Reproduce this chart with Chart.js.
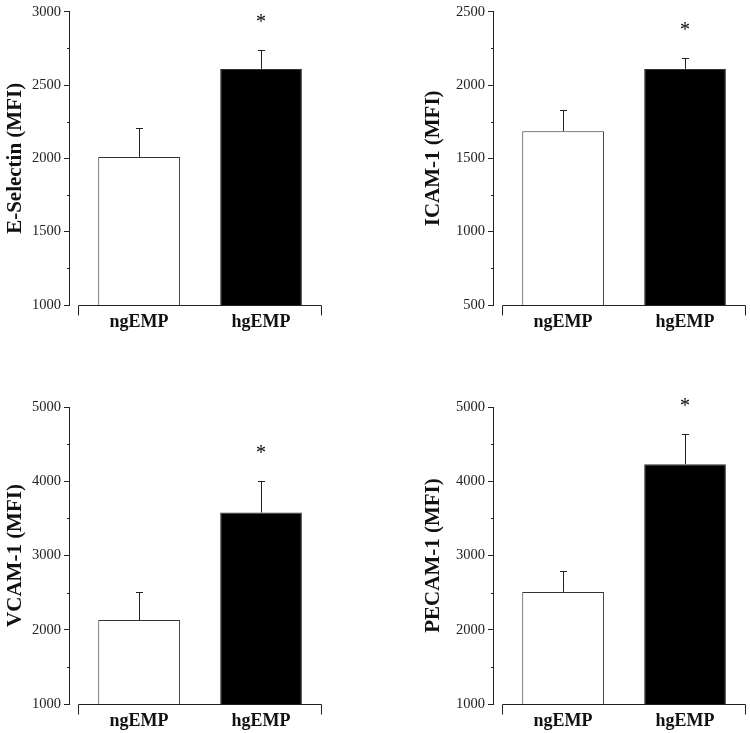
<!DOCTYPE html>
<html>
<head>
<meta charset="utf-8">
<script src="https://cdn.jsdelivr.net/npm/chart.js@4.4.0/dist/chart.umd.min.js"></script>
<style>
  html, body { margin: 0; padding: 0; background: #fff; }
  #wrap { position: relative; width: 750px; height: 733px; }
  #wrap canvas { position: absolute; }
</style>
</head>
<body>
<div id="wrap">
  <canvas id="c0"></canvas>
  <canvas id="c1"></canvas>
  <canvas id="c2"></canvas>
  <canvas id="c3"></canvas>
</div>
<script>
// Groups on the x axis
const groups = ['ngEMP', 'hgEMP'];

// Means and SEM (upper error only)
const eSelectinMean = [2010, 2610];
const eSelectinErr  = [200, 130];
const icamMean      = [1685, 2110];
const icamErr       = [145, 75];
const vcamMean      = [2130, 3580];
const vcamErr       = [380, 420];
const pecamMean     = [2510, 4230];
const pecamErr      = [280, 400];

// significance marks
const significant = [false, true];

// y axis titles and ranges
const yTitles    = ['E-Selectin (MFI)', 'ICAM-1 (MFI)', 'VCAM-1 (MFI)', 'PECAM-1 (MFI)'];
const yMins      = [1000, 500, 1000, 1000];
const yMaxs      = [3000, 2500, 5000, 5000];
const minorSteps = [250, 250, 500, 500];
const majorSteps = [500, 500, 1000, 1000];

const means = [eSelectinMean, icamMean, vcamMean, pecamMean];
const errs  = [eSelectinErr, icamErr, vcamErr, pecamErr];

// panel placement (canvas box + plot area inside it)
const panels = [
  { left: 0,   top: 0,   w: 375, h: 345, plotLeft: 69,  plotTop: 8,  plotBottom: 305, titlePad: 3 },
  { left: 375, top: 0,   w: 375, h: 345, plotLeft: 118, plotTop: 8,  plotBottom: 305, titlePad: 46 },
  { left: 0,   top: 365, w: 375, h: 368, plotLeft: 69,  plotTop: 42, plotBottom: 339, titlePad: 3 },
  { left: 375, top: 365, w: 375, h: 368, plotLeft: 118, plotTop: 42, plotBottom: 339, titlePad: 46 }
];
const plotWidth = 253;
const xStart = -0.575, xAxisFrom = -0.5, xAxisTo = 1.5;

const serif = '"Liberation Serif", "Times New Roman", serif';
const ink = '#222';

// error bars, significance stars, split x axis, minor y ticks
const extrasPlugin = {
  id: 'extras',
  afterDatasetsDraw(chart, args, opts) {
    const ctx = chart.ctx;
    const x = chart.scales.x, y = chart.scales.y;
    const area = chart.chartArea;
    const meta = chart.getDatasetMeta(0);
    ctx.save();
    ctx.strokeStyle = ink;
    ctx.lineWidth = 1;

    meta.data.forEach((bar, i) => {
      const topPx = Math.round(y.getPixelForValue(opts.mean[i] + opts.err[i])) + 0.5;
      const cx = Math.round(bar.x) + 0.5;
      ctx.beginPath();
      ctx.moveTo(cx, bar.y);
      ctx.lineTo(cx, topPx);
      ctx.moveTo(cx - 3.5, topPx);
      ctx.lineTo(cx + 3.5, topPx);
      ctx.stroke();
      if (significant[i]) {
        ctx.fillStyle = '#000';
        ctx.font = '20px ' + serif;
        ctx.textAlign = 'center';
        ctx.textBaseline = 'alphabetic';
        ctx.fillText('*', bar.x, topPx - 31 + 8);
      }
    });

    // x axis line with end ticks
    const yb = Math.round(area.bottom) + 0.5;
    const x0 = Math.round(x.getPixelForValue(xAxisFrom)) + 0.5;
    const x1 = Math.round(x.getPixelForValue(xAxisTo)) - 0.5;
    ctx.beginPath();
    ctx.moveTo(x0, yb + 10);
    ctx.lineTo(x0, yb);
    ctx.lineTo(x1, yb);
    ctx.lineTo(x1, yb + 10);
    ctx.stroke();

    // short minor ticks on y axis
    y.ticks.forEach(t => {
      if (t.value % opts.major !== 0) {
        const py = Math.round(y.getPixelForValue(t.value)) + 0.5;
        ctx.beginPath();
        ctx.moveTo(area.left - 2, py);
        ctx.lineTo(area.left, py);
        ctx.stroke();
      }
    });
    ctx.restore();
  }
};

panels.forEach((p, k) => {
  const canvas = document.getElementById('c' + k);
  canvas.width = p.w;
  canvas.height = p.h;
  canvas.style.left = p.left + 'px';
  canvas.style.top = p.top + 'px';

  new Chart(canvas, {
    type: 'bar',
    data: {
      datasets: [{
        data: groups.map((g, i) => ({ x: i, y: means[k][i] })),
        backgroundColor: ['#ffffff', '#000000'],
        borderColor: '#333',
        borderWidth: 1,
        categoryPercentage: 1,
        barPercentage: 0.67
      }]
    },
    options: {
      responsive: false,
      animation: false,
      devicePixelRatio: 1,
      layout: { padding: { top: p.plotTop, right: p.w - p.plotLeft - plotWidth, bottom: 0, left: 0 } },
      plugins: {
        legend: { display: false },
        tooltip: { enabled: false },
        extras: { mean: means[k], err: errs[k], major: majorSteps[k] }
      },
      scales: {
        x: {
          type: 'linear',
          min: xStart,
          max: xAxisTo,
          offset: false,
          grid: { display: false, drawTicks: false, offset: false },
          border: { display: false },
          afterBuildTicks: s => { s.ticks = groups.map((g, i) => ({ value: i })); },
          afterFit: s => { s.height = p.h - p.plotBottom; },
          ticks: {
            autoSkip: false,
            maxRotation: 0,
            padding: 7,
            color: '#111',
            font: { family: serif, size: 18, weight: 'bold' },
            callback: v => groups[v]
          }
        },
        y: {
          min: yMins[k],
          max: yMaxs[k],
          afterFit: s => { s.width = p.plotLeft; },
          border: { display: true, color: ink, width: 1 },
          grid: {
            drawOnChartArea: false,
            tickLength: 5,
            tickColor: c => (c.tick && c.tick.value % majorSteps[k] === 0) ? ink : 'rgba(0,0,0,0)'
          },
          ticks: {
            stepSize: minorSteps[k],
            padding: 3,
            color: ink,
            font: { family: serif, size: 14.5 },
            callback: v => (v % majorSteps[k] === 0 ? String(v) : '')
          },
          title: {
            display: true,
            text: yTitles[k],
            color: '#111',
            padding: { top: p.titlePad, bottom: 0 },
            font: { family: serif, size: 21, weight: 'bold' }
          }
        }
      }
    },
    plugins: [extrasPlugin]
  });
});
</script>
</body>
</html>
